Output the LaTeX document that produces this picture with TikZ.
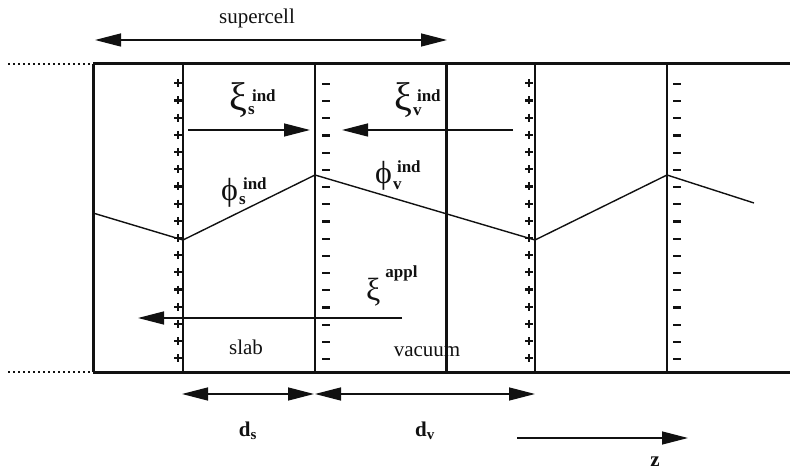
\documentclass[tikz,border=0pt]{standalone}
\usepackage{fontspec}
\setmainfont{Liberation Serif}
\usetikzlibrary{arrows.meta}
\definecolor{ink}{HTML}{111111}
% symbol, superscript, subscript, raise of superscript, drop of subscript, size
\newcommand{\fld}[6]{{\fontsize{#6}{#6}\selectfont #1}\kern1pt\raisebox{-#5}{\rlap{\bfseries\fontsize{17}{19}\selectfont #3}}\kern4pt\raisebox{#4}{\bfseries\fontsize{17}{19}\selectfont #2}}
\newcommand{\len}[1]{\textbf{d}$_{\hbox{\bfseries\fontsize{15}{17}\selectfont #1}}$}

\begin{document}
\begin{tikzpicture}[x=1pt, y=-1pt, font=\fontsize{21}{25}\selectfont, ink,
  >={Triangle[length=26pt, width=13pt]},
  frame/.style={line width=3pt},
  wall/.style={line width=1.4pt},
  charge/.style={line width=2.2pt},
  arrow/.style={line width=1.4pt},
  lab/.style={anchor=base west, inner sep=0pt}]
  \useasboundingbox (0,0) rectangle (790,470);
  % cell walls and surfaces
  \foreach \name/\x/\w in {c0/93/frame, p1/183/wall, m1/315/wall, c1/446/frame, p2/535/wall, m2/667/wall}{%
    \coordinate (\name-t) at (\x,64);
    \coordinate (\name-b) at (\x,372);
    \draw[\w] (\name-t) -- (\name-b);}
  \coordinate (lt) at (8,64);  \coordinate (rt) at (790,64);
  \coordinate (lb) at (8,372); \coordinate (rb) at (790,372);
  \draw[frame] (c0-t) -- (rt);
  \draw[frame] (c0-b) -- (rb);
  \draw[line width=2pt, dash pattern=on 2pt off 3pt] (lt) -- (c0-t);
  \draw[line width=2pt, dash pattern=on 2pt off 3pt] (lb) -- (c0-b);
  % surface charges
  \foreach \k in {0,...,16}{%
    \foreach \x in {178,529}{%
      \draw[charge] (\x-4,83.3+17.19*\k) -- ++(8,0) (\x,79.3+17.19*\k) -- ++(0,8);}
    \foreach \x in {326,677}{%
      \draw[charge] (\x-4,84+17.19*\k) -- ++(8,0);}}
  % induced potential
  \draw[wall] (93,213) -- (183,240) -- (315,175) -- (535,240) -- (667,175) -- (754,203);
  % arrows
  \coordinate (sc-l) at (95,40);   \coordinate (sc-r) at (447,40);
  \coordinate (es-l) at (188,130); \coordinate (es-r) at (310,130);
  \coordinate (ev-l) at (342,130); \coordinate (ev-r) at (513,130);
  \coordinate (ea-l) at (138,318); \coordinate (ea-r) at (402,318);
  \coordinate (ds-l) at (182,394); \coordinate (ds-r) at (314,394);
  \coordinate (dv-l) at (315,394); \coordinate (dv-r) at (535,394);
  \coordinate (z-l) at (517,438);  \coordinate (z-r) at (688,438);
  \draw[arrow, <->] (sc-l) -- (sc-r);
  \draw[arrow, ->] (es-l) -- (es-r);
  \draw[arrow, ->] (ev-r) -- (ev-l);
  \draw[arrow, ->] (ea-r) -- (ea-l);
  \draw[arrow, <->] (ds-l) -- (ds-r);
  \draw[arrow, <->] (dv-l) -- (dv-r);
  \draw[arrow, ->] (z-l) -- (z-r);
  % labels
  \node (sc) at (257,18) {supercell};
  \node[lab] (xis) at (229,111) {\fld{ξ}{ind}{s}{9pt}{4pt}{40}};
  \node[lab] (xiv) at (394,111) {\fld{ξ}{ind}{v}{9pt}{5pt}{40}};
  \node[lab] (phs) at (221,201) {\fld{ϕ}{ind}{s}{11pt}{4pt}{32}};
  \node[lab] (phv) at (375,184) {\fld{ϕ}{ind}{v}{11pt}{6pt}{32}};
  \node[lab] (xia) at (366,301) {\fld{ξ}{appl}{}{23pt}{0pt}{32}};
  \node (slab) at (246,347) {slab};
  \node (vac) at (427,352) {vacuum};
  \node (ds) at (248,431) {\len{s}};
  \node (dv) at (425,431) {\len{v}};
  \node (z) at (655,462) {\textbf{z}};
\end{tikzpicture}
\end{document}
